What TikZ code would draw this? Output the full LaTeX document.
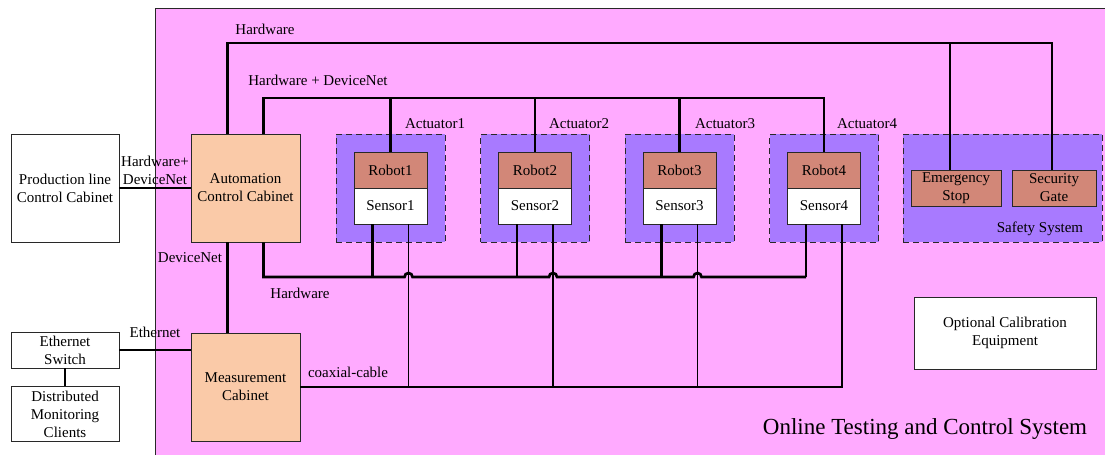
\documentclass[tikz,border=0pt]{standalone}
\usepackage{fontspec}
\setmainfont{Liberation Serif}
\usetikzlibrary{positioning,calc}

\definecolor{bgpink}{RGB}{255,170,255}
\definecolor{actpurple}{RGB}{168,122,255}
\definecolor{cabinet}{RGB}{250,202,168}
\definecolor{robot}{RGB}{210,135,120}
\definecolor{edge}{RGB}{40,40,40}

\tikzset{
	cab/.style={draw=edge,line width=0.9pt,align=center,inner sep=0pt,minimum width=108pt,minimum height=108pt},
	unit/.style={draw=edge,line width=0.9pt,align=center,inner sep=0pt,minimum width=73pt,minimum height=36pt},
	group/.style={draw=edge,line width=0.9pt,dash pattern=on 6pt off 4pt,fill=actpurple,inner sep=0pt,minimum height=108pt},
	lab/.style={inner sep=0pt,align=center},
	wire/.style={line width=2.7pt},
	coax/.style={line width=1.5pt}
}

\begin{document}
\begin{tikzpicture}[x=1pt,y=-1pt,font=\fontsize{15}{18}\selectfont]
\useasboundingbox (0,0) rectangle (1105,455);

% system area
\fill[bgpink] (155,8) rectangle (1105,455);
\draw[edge,line width=0.9pt] (155,455) |- (1105,8);

% bus heights
\coordinate (hwbus) at (0,43);
\coordinate (dnbus) at (0,98);
\coordinate (hwlow) at (0,277);
\coordinate (coaxbus) at (0,387);

% cabinets
\node[cab,fill=white] (prod) at (65,188) {Production line\\Control Cabinet};
\node[cab,fill=cabinet,minimum width=109pt] (auto) at (245.5,188) {Automation\\Control Cabinet};
\node[cab,fill=cabinet,minimum width=109pt] (meas) at (245.5,387) {Measurement\\Cabinet};
\node[cab,fill=white,minimum height=36pt] (switch) at (65,350) {Ethernet\\Switch};
\node[cab,fill=white,minimum height=55pt] (clients) at (65,414) {Distributed\\Monitoring\\Clients};
\node[cab,fill=white,minimum width=182pt,minimum height=72pt] (calib) at (1005,333) {Optional Calibration\\Equipment};

% actuators
\foreach[count=\c] \x/\l in {390.5/435,535/579,679.5/725,824/867}{
	\node[group,minimum width=109pt] (act\c) at (\x,188) {};
	\node[unit,fill=robot] (rob\c) at (\x,170) {Robot\c};
	\node[unit,fill=white] (sen\c) at (\x,206) {Sensor\c};
	\node[lab,anchor=base] (actlab\c) at (\l,128) {Actuator\c};
}

% safety system
\node[group,minimum width=199pt] (safety) at (1002.5,188) {};
\node[unit,fill=robot,minimum width=90pt] (estop) at (956,188) {Emergency\\Stop};
\node[unit,fill=robot,minimum width=84pt] (gate) at (1054,188) {Security\\Gate};
\node[lab,anchor=base] (safelab) at (1040,232) {Safety System};

% hardware to safety system
\draw[wire] ([xshift=-18pt]auto.north) |- ([xshift=-2pt]gate.north |- hwbus) -- ([xshift=-2pt]gate.north);
\draw[wire] ([xshift=-6pt]estop.north |- hwbus) -- ([xshift=-6pt]estop.north);

% hardware + devicenet to robots
\draw[wire] ([xshift=18pt]auto.north) |- (rob4.north |- dnbus) -- (rob4.north);
\foreach \i in {1,2,3}
	\draw[wire] (rob\i.north |- dnbus) -- (rob\i.north);

% sensors
\foreach \i in {1,...,4}{
	\draw[wire] ([xshift=-18pt]sen\i.south) -- ([xshift=-18pt]sen\i.south |- hwlow);
	\draw[coax] ([xshift=18pt]sen\i.south) -- ([xshift=18pt]sen\i.south |- coaxbus);
}
\draw[wire] ([xshift=18pt]auto.south) |- ([xshift=14pt]sen1.south |- hwlow)
	arc[start angle=180,end angle=360,radius=4] -- ([xshift=14pt]sen2.south |- hwlow)
	arc[start angle=180,end angle=360,radius=4] -- ([xshift=14pt]sen3.south |- hwlow)
	arc[start angle=180,end angle=360,radius=4] -- ([xshift=-18pt]sen4.south |- hwlow);
\draw[coax] (meas.east) -| ([xshift=18pt]sen4.south);

% outside links
\draw[wire] (prod) -- (auto);
\draw[wire] ([xshift=-18pt]auto.south) -- ([xshift=-18pt]meas.north);
\draw[wire] (switch.east) -- (switch.east -| meas.west);
\draw[wire] (switch) -- (clients);

% line labels
\node[lab,anchor=base] (l1) at (265,34) {Hardware};
\node[lab,anchor=base] (l2) at (318,85) {Hardware + DeviceNet};
\node[lab] (l3) at (155,170) {Hardware+\\DeviceNet};
\node[lab,anchor=base] (l4) at (190,262) {DeviceNet};
\node[lab,anchor=base] (l5) at (300,298) {Hardware};
\node[lab,anchor=base] (l6) at (155,337) {Ethernet};
\node[lab,anchor=base] (l7) at (348,377) {coaxial-cable};

\node[lab,anchor=base,font=\fontsize{23}{27}\selectfont] (title) at (925,434) {Online Testing and Control System};
\end{tikzpicture}
\end{document}
